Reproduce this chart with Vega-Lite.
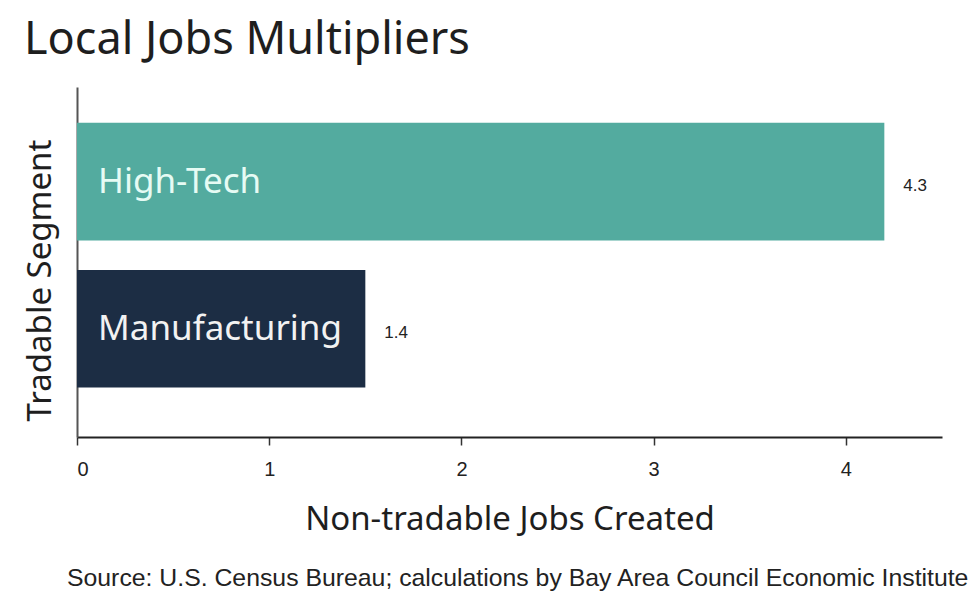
{
  "$schema": "https://vega.github.io/schema/vega-lite/v6.json",
  "background": "white",
  "padding": {"left": 24, "top": 18, "right": 0, "bottom": 0},
  "title": {"text": "Local Jobs Multipliers", "anchor": "start", "frame": "bounds", "font": "Noto Sans", "fontSize": 45, "fontWeight": "normal", "color": "#1e1e1e", "offset": 24},
  "vconcat": [
    {
      "width": 865,
      "height": 350,
      "title": {"text": "Source: U.S. Census Bureau; calculations by Bay Area Council Economic Institute", "orient": "bottom", "anchor": "start", "frame": "bounds", "font": "Liberation Sans", "fontSize": 24.8, "fontWeight": "normal", "color": "#222222", "offset": 30, "dx": 43},
      "data": {"values": [
        {"segment": "High-Tech", "jobs": 4.2, "label": "4.3"},
        {"segment": "Manufacturing", "jobs": 1.5, "label": "1.4"}
      ]},
      "encoding": {
        "y": {"field": "segment", "type": "nominal", "sort": null,
          "scale": {"paddingInner": 0.2, "paddingOuter": 0.29, "align": 0.42},
          "axis": {"title": "Tradable Segment", "labels": false, "ticks": false, "domain": true, "domainColor": "#555555", "domainWidth": 2, "titleFont": "Noto Sans", "titleFontSize": 33, "titleFontWeight": "normal", "titleColor": "#1e1e1e", "titlePadding": 20, "titleY": 193}}
      },
      "layer": [
        {
          "mark": {"type": "bar"},
          "encoding": {
            "x": {"field": "jobs", "type": "quantitative", "scale": {"domain": [0, 4.5], "nice": false},
              "axis": {"title": "Non-tradable Jobs Created", "values": [0, 1, 2, 3, 4], "format": "d", "grid": false, "domainColor": "#222222", "domainWidth": 2, "tickColor": "#333333", "tickSize": 8, "tickWidth": 1.5, "labelFont": "Liberation Sans", "labelFontSize": 20, "labelColor": "#222222", "labelPadding": 14, "titleFont": "Noto Sans", "titleFontSize": 33, "titleFontWeight": "normal", "titleColor": "#1e1e1e", "titlePadding": 24}},
            "color": {"field": "segment", "type": "nominal", "scale": {"domain": ["High-Tech", "Manufacturing"], "range": ["#53ab9f", "#1c2d44"]}, "legend": null}
          }
        },
        {
          "mark": {"type": "text", "align": "left", "baseline": "middle", "dx": 21, "font": "Noto Sans", "fontSize": 35},
          "encoding": {
            "x": {"datum": 0, "type": "quantitative"},
            "text": {"field": "segment"},
            "color": {"field": "segment", "type": "nominal", "scale": {"domain": ["High-Tech", "Manufacturing"], "range": ["#e6fbf4", "#f2f2f2"]}, "legend": null}
          }
        },
        {
          "mark": {"type": "text", "align": "left", "baseline": "middle", "dx": 19, "dy": 4, "font": "Liberation Sans", "fontSize": 17, "color": "#222222"},
          "encoding": {
            "x": {"field": "jobs", "type": "quantitative"},
            "text": {"field": "label"}
          }
        }
      ],
      "resolve": {"scale": {"color": "independent"}}
    }
  ],
  "config": {"view": {"stroke": null}, "concat": {"spacing": 0}}
}
